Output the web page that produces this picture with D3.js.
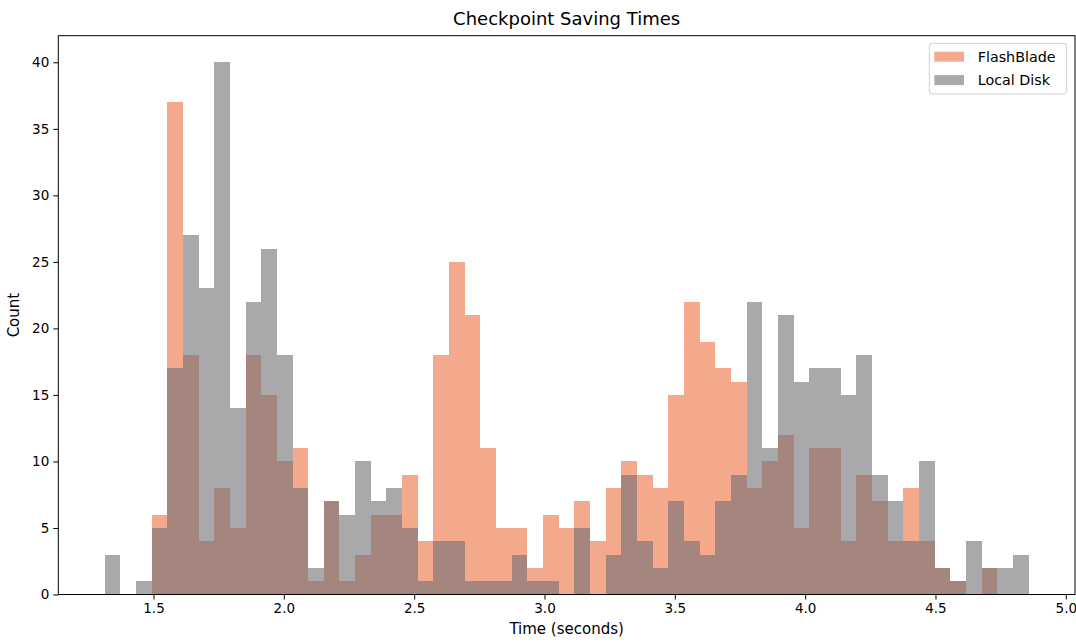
<!DOCTYPE html>
<html>
<head>
<meta charset="utf-8">
<script src="https://cdn.jsdelivr.net/npm/d3@7"></script>
<style>
  html, body { margin: 0; padding: 0; background: #fff; }
  svg { display: block; font-family: "DejaVu Sans", sans-serif; }
</style>
</head>
<body>
<svg id="chart" width="1076" height="643"></svg>
<script>
// ---- data ----
const seriesNames = ["FlashBlade", "Local Disk"];
const binRange = [1.312, 4.858];   // seconds (min / max of all samples)
const binCount = 59;
const flashBladeCounts = [0,0,0,6,37,18,4,8,5,18,15,10,11,1,7,1,3,6,6,9,4,18,25,21,11,5,5,2,6,5,7,4,8,10,9,8,15,22,19,17,16,8,10,12,5,11,11,4,9,7,4,8,4,2,1,0,2,0,0];
const localDiskCounts  = [3,0,1,5,17,27,23,40,14,22,26,18,8,2,7,6,10,7,8,5,1,4,4,1,1,1,3,1,1,0,5,0,3,9,4,2,7,4,3,7,9,22,11,21,16,17,17,15,18,9,7,4,10,2,1,4,2,2,3];
const xTicks = [1.5, 2.0, 2.5, 3.0, 3.5, 4.0, 4.5, 5.0];
const yTicks = [0, 5, 10, 15, 20, 25, 30, 35, 40];
const titleText = "Checkpoint Saving Times";
const xLabelText = "Time (seconds)";
const yLabelText = "Count";

// ---- layout / style ----
const W = 1076, H = 643;
const plot = { left: 58.3, right: 1075, top: 35.7, bottom: 594.5 };
const colors = ["rgb(237,112,63)", "rgb(112,112,117)"];
const barOpacity = 0.6;

const svg = d3.select("#chart");

const span = binRange[1] - binRange[0];
const x = d3.scaleLinear()
  .domain([binRange[0] - 0.05 * span, binRange[1] + 0.05 * span])
  .range([plot.left, plot.right]);
const yMax = d3.max([...flashBladeCounts, ...localDiskCounts]);
const y = d3.scaleLinear()
  .domain([0, yMax * 1.05])
  .range([plot.bottom, plot.top]);

const edges = d3.range(binCount + 1).map(i => binRange[0] + i * span / binCount);

function drawSeries(counts, color, cls) {
  const data = counts.map((c, i) => ({ c, x0: edges[i], x1: edges[i + 1] })).filter(d => d.c > 0);
  svg.append("g").attr("class", cls)
    .selectAll("rect").data(data).join("rect")
    .attr("x", d => x(d.x0))
    .attr("width", d => x(d.x1) - x(d.x0))
    .attr("y", d => y(d.c))
    .attr("height", d => y(0) - y(d.c))
    .attr("fill", color)
    .attr("fill-opacity", barOpacity)
    .attr("shape-rendering", "crispEdges");
}
drawSeries(flashBladeCounts, colors[0], "fb");
drawSeries(localDiskCounts, colors[1], "ld");

// axes
const xAxis = d3.axisBottom(x).tickValues(xTicks).tickFormat(d3.format(".1f")).tickSize(5).tickPadding(4);
const yAxis = d3.axisLeft(y).tickValues(yTicks).tickFormat(d3.format("d")).tickSize(5).tickPadding(4);

const gx = svg.append("g").attr("transform", `translate(0,${plot.bottom})`).call(xAxis);
const gy = svg.append("g").attr("transform", `translate(${plot.left},0)`).call(yAxis);
[gx, gy].forEach(g => {
  g.select(".domain").remove();
  g.selectAll("text").attr("font-size", 13.5).attr("fill", "#000").attr("font-family", "DejaVu Sans");
  g.selectAll("line").attr("stroke", "#000").attr("stroke-width", 1);
});

// frame
svg.append("rect")
  .attr("x", plot.left).attr("y", plot.top)
  .attr("width", plot.right - plot.left).attr("height", plot.bottom - plot.top)
  .attr("fill", "none").attr("stroke", "#000").attr("stroke-width", 1);

// title & labels
svg.append("text").attr("x", (plot.left + plot.right) / 2).attr("y", 25)
  .attr("text-anchor", "middle").attr("font-size", 18).attr("fill", "#000").text(titleText);
svg.append("text").attr("x", (plot.left + plot.right) / 2).attr("y", 634)
  .attr("text-anchor", "middle").attr("font-size", 15).attr("fill", "#000").text(xLabelText);
svg.append("text")
  .attr("transform", `translate(19,${(plot.top + plot.bottom) / 2}) rotate(-90)`)
  .attr("text-anchor", "middle").attr("font-size", 15).attr("fill", "#000").text(yLabelText);

// legend
const lg = svg.append("g").attr("transform", "translate(929.3,43.3)");
lg.append("rect").attr("width", 137.4).attr("height", 50.7).attr("rx", 3)
  .attr("fill", "#fff").attr("fill-opacity", 0.8).attr("stroke", "#d0d0d0").attr("stroke-width", 1);
seriesNames.forEach((name, i) => {
  const row = lg.append("g").attr("transform", `translate(5,${8.4 + i * 23.4})`);
  row.append("rect").attr("width", 29.7).attr("height", 10)
    .attr("fill", colors[i]).attr("fill-opacity", barOpacity);
  row.append("text").attr("x", 43.4).attr("y", 5).attr("dy", "0.35em")
    .attr("font-size", 14.3).attr("fill", "#000").text(name);
});
</script>
</body>
</html>
